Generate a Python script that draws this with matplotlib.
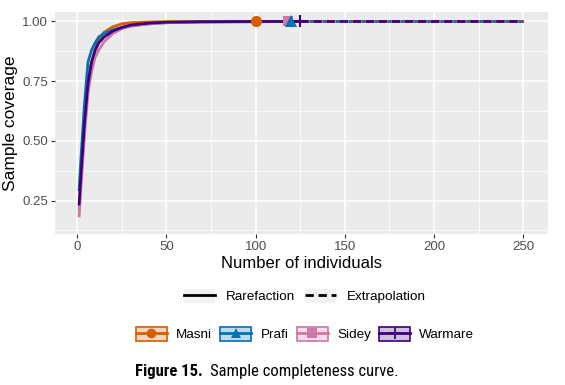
import matplotlib
matplotlib.use("Agg")
import matplotlib.pyplot as plt
from matplotlib.lines import Line2D
from matplotlib.patches import Rectangle
from matplotlib.legend_handler import HandlerTuple
from matplotlib import font_manager
import numpy as np

plt.rcParams['font.family'] = ['Liberation Sans', 'DejaVu Sans']

# Sample sizes along each rarefaction curve and the coverage
x_masni = [1, 2, 4, 6, 8, 10, 12, 15, 20, 25, 30, 40, 50, 70, 100]
c_masni = [0.21, 0.33, 0.56, 0.74, 0.83, 0.88, 0.92, 0.955, 0.978, 0.99, 0.995, 0.998, 0.999, 1.0, 1.0]

x_prafi = [1, 2, 4, 6, 8, 10, 12, 15, 20, 25, 30, 40, 50, 70, 100, 120]
c_prafi = [0.29, 0.42, 0.65, 0.83, 0.88, 0.91, 0.935, 0.95, 0.965, 0.975, 0.983, 0.99, 0.995, 0.998, 0.999, 1.0]

x_sidey = [1, 2, 4, 6, 8, 10, 12, 15, 20, 25, 30, 40, 50, 70, 100, 118]
c_sidey = [0.18, 0.30, 0.52, 0.70, 0.79, 0.85, 0.88, 0.915, 0.95, 0.97, 0.98, 0.99, 0.995, 0.998, 0.999, 1.0]

x_warm = [1, 2, 4, 6, 8, 10, 12, 15, 20, 25, 30, 40, 50, 70, 100, 125]
c_warm = [0.23, 0.35, 0.57, 0.74, 0.83, 0.88, 0.91, 0.935, 0.96, 0.975, 0.985, 0.993, 0.997, 0.999, 1.0, 1.0]

# extrapolated part, from the observed size to the endpoint
x_end = 250
c_extra = 1.0

sites = ['Masni', 'Prafi', 'Sidey', 'Warmare']
colors = ['#D55E00', '#0072B2', '#CC79A7', '#3F007D']
markers = ['o', '^', 's', '+']
series = [(x_masni, c_masni), (x_prafi, c_prafi), (x_sidey, c_sidey), (x_warm, c_warm)]
dash = (0, (3, 1.7))

fig = plt.figure(figsize=(5.65, 3.85), dpi=100)
ax = fig.add_axes([0.0973, 0.392, 0.873, 0.577])
ax.set_facecolor('#EBEBEB')

for (xs, cs), col in zip(series, colors):
    xs = np.array(xs)
    cs = np.array(cs)
    band = 0.02 * (1 - cs) / 0.8
    ax.fill_between(xs, cs - band, np.minimum(cs + band, 1.0), color=col, alpha=0.2, lw=0, zorder=2)
    ax.plot(xs, cs, color=col, lw=2, solid_capstyle='butt', zorder=3)
    ax.plot([xs[-1], x_end], [cs[-1], c_extra], color=col, lw=2, ls=dash, zorder=3)

# end points (observed sample), Sidey drawn under Prafi
for i in [0, 2, 1, 3]:
    xs, cs = series[i]
    mk = markers[i]
    ms = {'o': 8, '^': 8.5, 's': 7, '+': 9}[mk]
    mew = 1.5 if mk == '+' else 0
    ax.plot(xs[-1], cs[-1], marker=mk, color=colors[i], ms=ms, mew=mew, zorder=4, ls='none')

ax.set_xlim(-12.5, 264)
ax.set_ylim(0.11, 1.04)
ax.set_xticks([0, 50, 100, 150, 200, 250])
ax.set_yticks([0.25, 0.50, 0.75, 1.00])
ax.set_yticklabels(['0.25', '0.50', '0.75', '1.00'])
ax.set_xticks([25, 75, 125, 175, 225], minor=True)
ax.set_yticks([0.125, 0.375, 0.625, 0.875], minor=True)
ax.grid(True, which='major', color='white', lw=1.1)
ax.grid(True, which='minor', color='white', lw=0.55)
ax.set_axisbelow(True)
ax.tick_params(which='major', length=3, width=0.8, color='#333333', labelcolor='#4D4D4D',
               labelsize=9.5, pad=2)
ax.tick_params(which='minor', length=0)
for s in ax.spines.values():
    s.set_visible(False)

ax.set_xlabel('Number of individuals', fontsize=12, labelpad=2)
ax.set_ylabel('Sample coverage', fontsize=12.5, labelpad=3)

tup = {tuple: HandlerTuple(ndivide=1, pad=0)}

# linetype legend
key_bg = Rectangle((0, 0), 1, 1, facecolor='#F2F2F2', edgecolor='none')
h_rare = (key_bg, Line2D([], [], color='black', lw=2))
h_extra = (key_bg, Line2D([], [], color='black', lw=2, ls=dash))
fig.legend([h_rare, h_extra], ['Rarefaction', 'Extrapolation'], handler_map=tup,
           loc='center', bbox_to_anchor=(0.54, 0.231), ncol=2, frameon=False,
           fontsize=9.7, handlelength=2.3, handleheight=1.2, handletextpad=0.8,
           columnspacing=0.7, borderpad=0)

# site legend
site_handles = []
for col, mk in zip(colors, markers):
    box = Rectangle((0, 0), 1, 1, facecolor=col, alpha=0.25, edgecolor='none')
    edge = Rectangle((0, 0), 1, 1, facecolor='none', edgecolor=col, lw=1.2)
    ms = {'o': 7, '^': 7.5, 's': 6.5, '+': 9}[mk]
    mew = 1.3 if mk == '+' else 0
    ln = Line2D([], [], color=col, lw=2, marker=mk, ms=ms, mew=mew)
    site_handles.append((box, edge, ln))
fig.legend(site_handles, sites, handler_map=tup,
           loc='center', bbox_to_anchor=(0.54, 0.132), ncol=4, frameon=False,
           fontsize=9.7, handlelength=2.3, handleheight=1.2, handletextpad=0.7,
           columnspacing=0.6, borderpad=0)

names = {f.name for f in font_manager.fontManager.ttflist}
if 'Roboto Condensed' in names:
    cap_font, cap_size = ['Roboto Condensed', 'Liberation Sans'], 12
else:
    cap_font, cap_size = ['Liberation Sans', 'DejaVu Sans'], 10.5
t1 = fig.text(0.239, 0.034, 'Figure 15.', fontsize=cap_size, fontweight='bold', family=cap_font,
              va='center', ha='left')
fig.canvas.draw()
bb = t1.get_window_extent()
fig.text(bb.x1 / fig.bbox.width + 0.012, 0.034, 'Sample completeness curve.', fontsize=cap_size,
         family=cap_font, va='center', ha='left')

fig.savefig('out.png', dpi=100)
